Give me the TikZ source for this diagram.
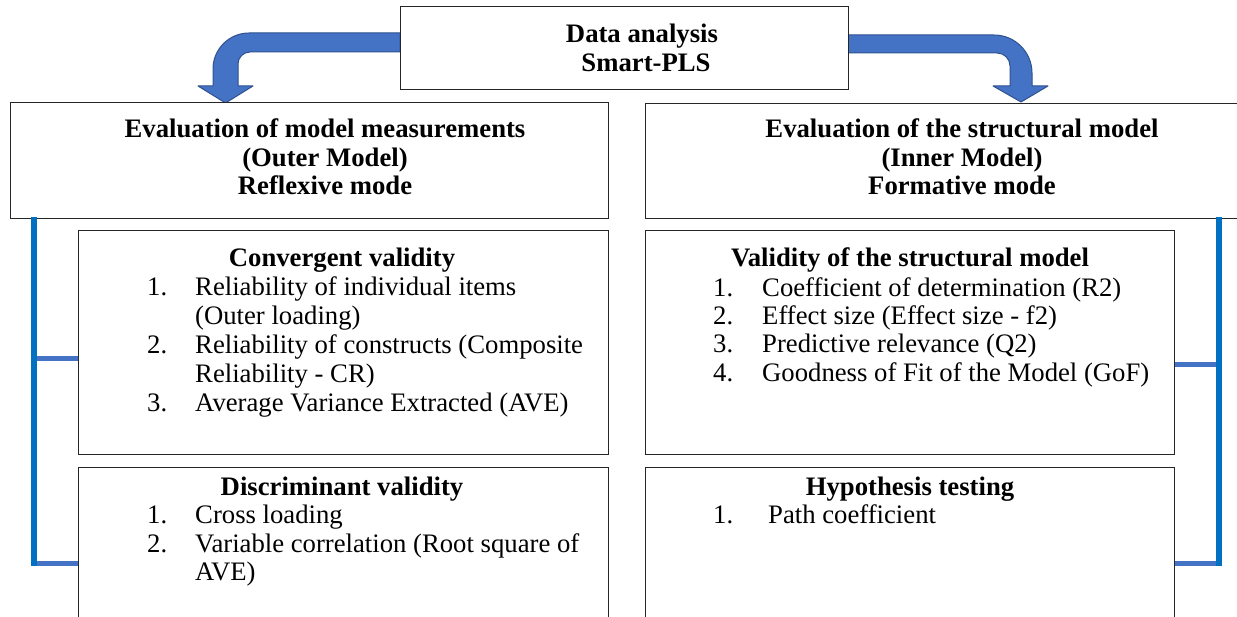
\documentclass[tikz,border=0pt]{standalone}
\usepackage{fontspec}
\setmainfont{Liberation Serif}
\definecolor{arrowblue}{HTML}{4472C4}
\definecolor{arrowedge}{HTML}{2F528F}
\definecolor{barblue}{HTML}{0070C0}
\begin{document}
\begin{tikzpicture}[x=1pt,y=-1pt,
  box/.style={draw=black!85, line width=1pt, fill=white, inner sep=0pt},
  txt/.style={font=\fontsize{26.7}{29.5}\selectfont, inner sep=0pt, anchor=base},
  hd/.style={txt, font=\fontsize{26.7}{29.5}\selectfont\bfseries},
  num/.style={txt, anchor=base west},
  bigarrow/.style={fill=arrowblue, draw=arrowedge, line width=1pt, line join=round},
  bar/.style={draw=barblue, line width=6pt},
  tickline/.style={draw=arrowblue, line width=5pt}]
\useasboundingbox (0,0) rectangle (1237,617);
\clip (0,0) rectangle (1237,617);

% curved block arrows
\path[bigarrow] (400,33) -- (249,33) .. controls (229.1,33) and (213,49.1) .. (213,69)
  -- (213,86) -- (198,86) -- (225.5,103) -- (253,86) -- (238,86) -- (238,64)
  .. controls (238,57.4) and (243.4,52) .. (250,52) -- (400,52) -- cycle;
\path[bigarrow] (847,35) -- (994,35) .. controls (1015,35) and (1032,52) .. (1032,73)
  -- (1032,86) -- (1048,86) -- (1021,102) -- (993,86) -- (1010,86) -- (1010,66)
  .. controls (1010,58.8) and (1004.2,53) .. (997,53) -- (847,53) -- cycle;

% boxes
\node[box, minimum width=448pt, minimum height=83pt] (top) at (624,48.5) {};
\node[box, minimum width=598pt, minimum height=116pt] (outer) at (309,161) {};
\node[box, minimum width=634pt, minimum height=115pt] (inner) at (962,161.5) {};
\node[box, minimum width=530pt, minimum height=223pt] (conv) at (343,342.5) {};
\node[box, minimum width=530pt, minimum height=233pt] (disc) at (343,583.5) {};
\node[box, minimum width=529pt, minimum height=223pt] (valid) at (909.5,342.5) {};
\node[box, minimum width=529pt, minimum height=233pt] (hyp) at (909.5,583.5) {};

% brackets
\coordinate (lb1) at (34,217);
\coordinate (lb2) at (34,566);
\coordinate (lt1) at (34,359);
\coordinate (lt2) at (34,563);
\draw[tickline] (lt1) -- (lt1 -| conv.west);
\draw[tickline] (lt2) -- (lt2 -| disc.west);
\draw[bar] (lb1) -- (lb2);
\coordinate (rb1) at (1219,217);
\coordinate (rb2) at (1219,566);
\coordinate (rt1) at (1219,365);
\coordinate (rt2) at (1219,563);
\draw[tickline] (rt1) -- (rt1 -| valid.east);
\draw[tickline] (rt2) -- (rt2 -| hyp.east);
\draw[bar] (rb1) -- (rb2);

% top texts
\node[hd] (t1) at (642,43) {Data analysis};
\node[hd] (t2) at (646,72) {Smart-PLS};

\node[hd] (o1) at (325,138) {Evaluation of model measurements};
\node[hd] (o2) at (325,167) {(Outer Model)};
\node[hd] (o3) at (325,195) {Reflexive mode};

\node[hd] (i1) at (962,138) {Evaluation of the structural model};
\node[hd] (i2) at (962,167) {(Inner Model)};
\node[hd] (i3) at (962,195) {Formative mode};

% convergent validity
\node[hd] (c0) at (342,267) {Convergent validity};
\node[num] (c1n) at (147,296) {1.};
\node[num] (c1a) at (195,296) {Reliability of individual items};
\node[num] (c1b) at (195,325) {(Outer loading)};
\node[num] (c2n) at (147,354) {2.};
\node[num] (c2a) at (195,354) {Reliability of constructs (Composite};
\node[num] (c2b) at (195,383) {Reliability - CR)};
\node[num] (c3n) at (147,412) {3.};
\node[num] (c3a) at (195,412) {Average Variance Extracted (AVE)};

% discriminant validity
\node[hd] (d0) at (342,495) {Discriminant validity};
\node[num] (d1n) at (147,523) {1.};
\node[num] (d1a) at (195,523) {Cross loading};
\node[num] (d2n) at (147,552) {2.};
\node[num] (d2a) at (195,552) {Variable correlation (Root square of};
\node[num] (d2b) at (195,580) {AVE)};

% validity of the structural model
\node[hd] (v0) at (910,267) {Validity of the structural model};
\node[num] (v1n) at (713,297) {1.};
\node[num] (v1a) at (762,297) {Coefficient of determination (R2)};
\node[num] (v2n) at (713,325) {2.};
\node[num] (v2a) at (762,325) {Effect size (Effect size - f2)};
\node[num] (v3n) at (713,353) {3.};
\node[num] (v3a) at (762,353) {Predictive relevance (Q2)};
\node[num] (v4n) at (713,382) {4.};
\node[num] (v4a) at (762,382) {Goodness of Fit of the Model (GoF)};

% hypothesis testing
\node[hd] (h0) at (910,495) {Hypothesis testing};
\node[num] (h1n) at (713,523) {1.};
\node[num] (h1a) at (768,523) {Path coefficient};
\end{tikzpicture}
\end{document}
